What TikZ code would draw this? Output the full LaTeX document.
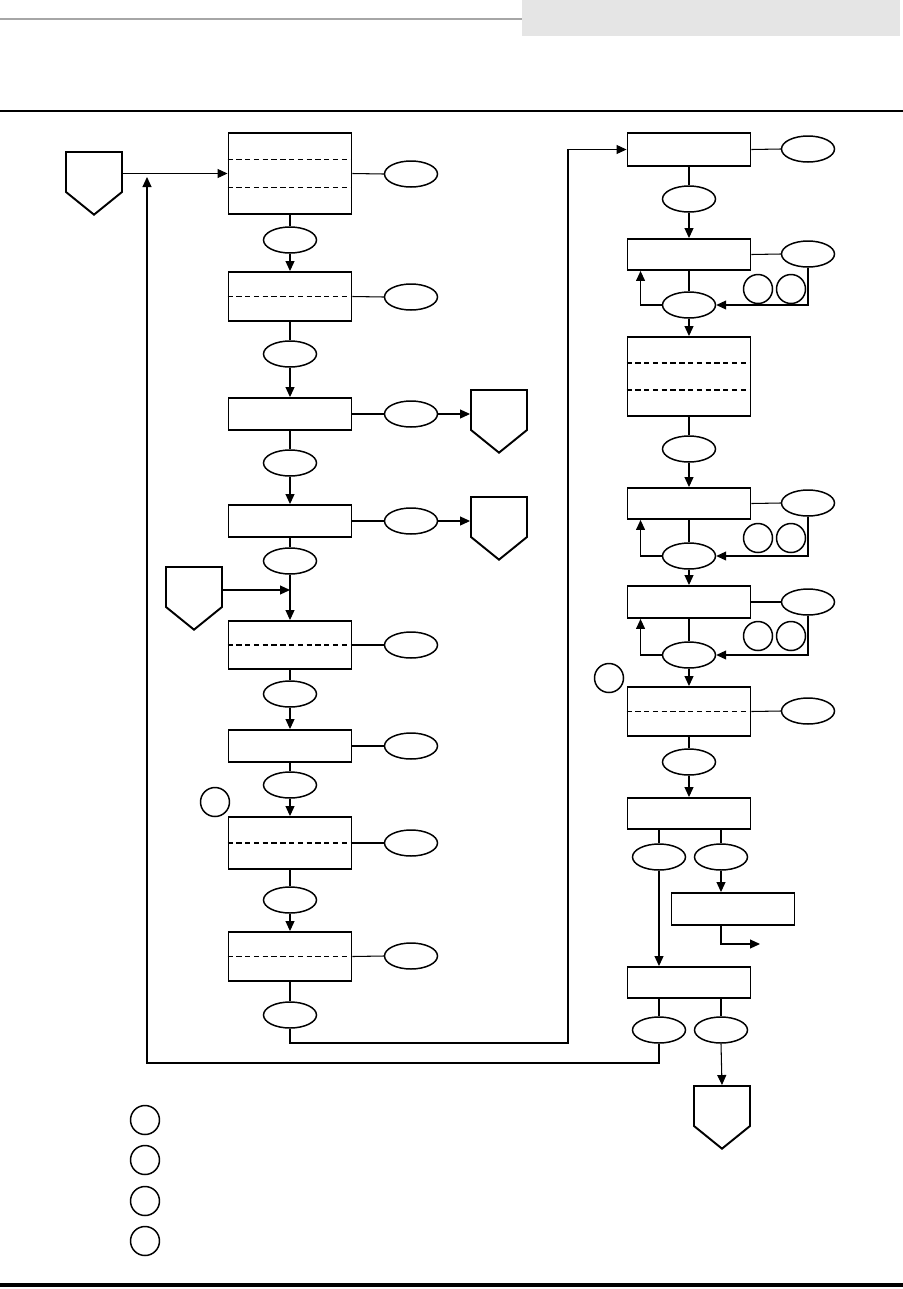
\documentclass[tikz,border=0pt]{standalone}
\usepackage{tikz}
\usetikzlibrary{arrows.meta,shapes.geometric,shapes.symbols,calc}

\begin{document}
\begin{tikzpicture}[
  x=0.02cm,y=-0.02cm,
  stepbox/.style={rectangle,draw,line width=1.1pt,minimum width=2.46cm,inner sep=0pt},
  tag/.style={ellipse,draw,line width=0.85pt,minimum width=1.06cm,minimum height=0.52cm,inner sep=0pt},
  note/.style={circle,draw,line width=0.85pt,minimum size=0.58cm,inner sep=0pt},
  offpage/.style={signal,signal to=south,signal pointer angle=102,draw,line width=1.1pt,minimum width=1.12cm,minimum height=0.8cm,inner sep=0pt},
  divider/.style={dash pattern=on 3pt off 2pt,line width=0.6pt},
  link/.style={line width=0.6pt},
  arrow/.style={-{Triangle[length=2mm,width=1.8mm]},line width=0.6pt}
]
\useasboundingbox (0,0) rectangle (903,1289);
\fill[black!10] (522,0) rectangle (900,36);
\draw[black!35,line width=0.6pt] (0,19) -- (522,19);
\draw[line width=1.7pt] (0,111) -- (903,111);
\draw[line width=2.2pt] (0,1285) -- (903,1285);

\node[offpage] (p0) at (94,172) {};
\node[stepbox,minimum height=1.62cm] (b1) at (290,173.5) {};
\node[stepbox,minimum height=0.98cm] (b2) at (290,296.5) {};
\node[stepbox,minimum height=0.64cm] (b3) at (290,414) {};
\node[stepbox,minimum height=0.64cm] (b4) at (290,521) {};
\node[stepbox,minimum height=0.96cm] (b5) at (290,645) {};
\node[stepbox,minimum height=0.64cm] (b6) at (290,746) {};
\node[stepbox,minimum height=1.04cm] (b7) at (290,843) {};
\node[stepbox,minimum height=0.98cm] (b8) at (290,956.5) {};
\node[offpage] (p3) at (499,410) {};
\node[offpage] (p4) at (499,517) {};
\node[offpage] (p5) at (194,587) {};

\node[stepbox,minimum height=0.66cm] (b9) at (689,149.5) {};
\node[stepbox,minimum height=0.62cm] (b10) at (689,254.5) {};
\node[stepbox,minimum height=1.58cm] (b11) at (689,376.5) {};
\node[stepbox,minimum height=0.62cm] (b12) at (689,503.5) {};
\node[stepbox,minimum height=0.64cm] (b13) at (689,602) {};
\node[stepbox,minimum height=0.98cm] (b14) at (689,711.5) {};
\node[stepbox,minimum height=0.62cm] (b15) at (689,813.5) {};
\node[stepbox,minimum height=0.64cm] (b16) at (733,909) {};
\node[stepbox,minimum height=0.62cm] (b17) at (689,982.5) {};
\node[offpage] (pend) at (722,1106) {};

\foreach \n/\y in {1/174,2/297,3/414,4/521,5/645,6/746,7/843,8/956}
  \node[tag] (s\n) at (411,\y) {};
\foreach \n/\y in {9/149,10/254,12/503,13/602,14/711}
  \node[tag] (s\n) at (808,\y) {};
\foreach \n/\y in {1/240,2/354,3/463,4/561,5/694,6/785,7/900,8/1015}
  \node[tag] (e\n) at (290,\y) {};
\foreach \n/\y in {9/199,10/305,11/449,12/556,13/655,14/762}
  \node[tag] (e\n) at (689,\y) {};
\node[tag] (e15a) at (659,857) {};
\node[tag] (e15b) at (721,857) {};
\node[tag] (e17a) at (659,1030) {};
\node[tag] (e17b) at (721,1030) {};

\foreach \n/\y in {10/289,12/538,13/636} {
  \node[note] (c\n a) at (758,\y) {};
  \node[note] (c\n b) at (791,\y) {};
}
\node[note] (k1) at (215,802) {};
\node[note] (k2) at (609,678) {};
\foreach \n/\y in {1/1120,2/1160,3/1201,4/1241}
  \node[note] (l\n) at (145,\y) {};

\foreach \b in {b1,b11}
  \foreach \f in {0.333,0.667}
    \draw[divider] ($(\b.north west)!\f!(\b.south west)$) -- ($(\b.north east)!\f!(\b.south east)$);
\foreach \b in {b2,b5,b7,b8,b14}
  \draw[divider] (\b.west) -- (\b.east);

\foreach \n in {1,...,8}
  \draw[link] (b\n.east) -- (s\n.west);
\foreach \n in {9,10,12,13,14}
  \draw[link] (b\n.east) -- (s\n.west);
\foreach \a/\b in {1/2,2/3,3/4,5/6,6/7,7/8} {
  \draw[link] (b\a.south) -- (e\a.north);
  \draw[arrow] (e\a.south) -- (b\b.north);
}
\draw[link] (b4.south) -- (e4.north);
\draw[arrow] (e4.south) -- (b5.north);
\draw[link] (b8.south) -- (e8.north);
\foreach \a/\b in {9/10,10/11,11/12,12/13,13/14,14/15} {
  \draw[link] (b\a.south) -- (e\a.north);
  \draw[arrow] (e\a.south) -- (b\b.north);
}
\foreach \n in {10,12,13} {
  \draw[arrow] (e\n.west) -| ([xshift=0.28cm]b\n.south west);
  \draw[arrow] (s\n.south) |- (e\n.east);
}

\draw[arrow] (p0.east |- b1.west) -- (b1.west);
\draw[arrow] (s3.east) -- (s3 -| p3.west);
\draw[arrow] (s4.east) -- (s4 -| p4.west);
\coordinate (m5) at (290,590);
\draw[arrow] (p5.east |- m5) -- (m5);

\coordinate (r1) at (568,1043);
\draw[arrow] (e8.south) |- (r1) |- (b9.west);

\draw[link] (e15a.north |- b15.south) -- (e15a.north);
\draw[link] (e15b.north |- b15.south) -- (e15b.north);
\draw[arrow] (e15a.south) -- (e15a.south |- b17.north);
\draw[arrow] (e15b.south) -- (e15b.south |- b16.north);
\coordinate (out16) at (760,944);
\draw[arrow] (e15b.south |- b16.south) |- (out16);

\draw[link] (e17a.north |- b17.south) -- (e17a.north);
\draw[link] (e17b.north |- b17.south) -- (e17b.north);
\draw[arrow] (e17b.south) -- (pend.north);
\coordinate (r2) at (147,1063);
\coordinate (join) at (147,177);
\draw[arrow] (e17a.south) |- (r2) -- (join);
\end{tikzpicture}
\end{document}
